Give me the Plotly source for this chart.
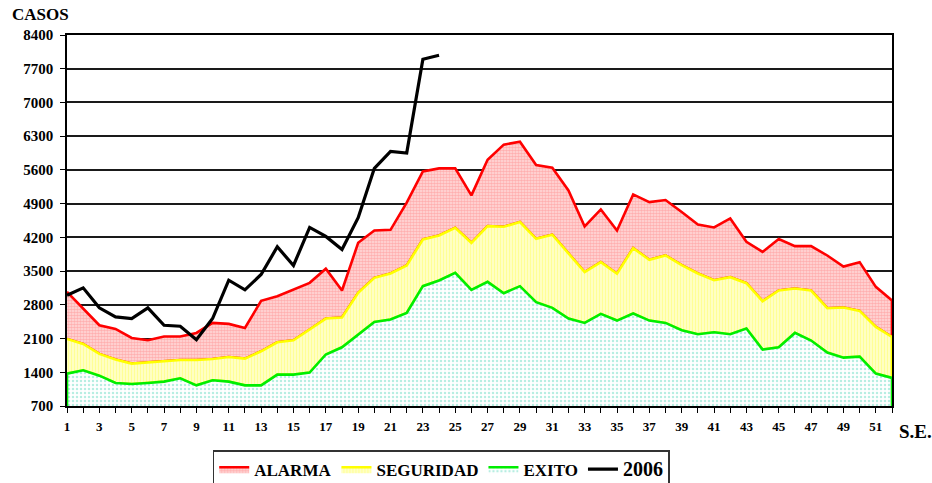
import plotly.graph_objects as go

weeks = list(range(1, 53))

alarma = [3070, 2720, 2376, 2300, 2113, 2065, 2141, 2141, 2217, 2425,
          2404, 2321, 2882, 2979, 3118, 3256, 3550, 3097, 4087, 4344,
          4357, 4919, 5570, 5632, 5632, 5071, 5812, 6124, 6186, 5701,
          5646, 5175, 4427, 4780, 4344, 5092, 4932, 4974, 4725, 4468,
          4406, 4593, 4108, 3900, 4164, 4018, 4018, 3824, 3595, 3686,
          3173, 2889]

seguridad = [2092, 1988, 1781, 1663, 1580, 1607, 1628, 1656, 1656, 1677,
             1718, 1684, 1836, 2023, 2065, 2286, 2515, 2536, 3048, 3360,
             3450, 3616, 4157, 4240, 4399, 4087, 4434, 4420, 4517, 4170,
             4254, 3866, 3478, 3686, 3446, 3976, 3734, 3824, 3623, 3450,
             3311, 3374, 3249, 2875, 3097, 3138, 3097, 2730, 2743, 2674,
             2342, 2134]

exito = [1372, 1441, 1330, 1178, 1157, 1178, 1206, 1275, 1129, 1233,
         1206, 1129, 1129, 1351, 1351, 1393, 1770, 1919, 2182, 2446,
         2494, 2633, 3187, 3305, 3464, 3111, 3277, 3041, 3187, 2854,
         2737, 2515, 2425, 2612, 2473, 2619, 2473, 2425, 2272, 2189,
         2231, 2189, 2307, 1871, 1919, 2217, 2058, 1808, 1704, 1725,
         1372, 1282]

weeks_2006 = list(range(1, 25))
casos_2006 = [3000, 3152, 2737, 2550, 2515, 2737, 2376, 2356, 2078, 2515,
              3311, 3111, 3429, 4004, 3616, 4406, 4220, 3949, 4607, 5632,
              5985, 5951, 7897, 7980]

base = 700
y_ticks = [700, 1400, 2100, 2800, 3500, 4200, 4900, 5600, 6300, 7000, 7700, 8400]
x_labels = [str(w) if w % 2 == 1 else "" for w in weeks]

SERIF = "Times New Roman"

fig = go.Figure()

# ALARMA band: between seguridad and alarma
fig.add_trace(go.Scatter(
    x=weeks + weeks[::-1], y=alarma + seguridad[::-1],
    fill="toself", mode="lines", name="<b>ALARMA</b>",
    line=dict(color="#ff0000", width=2.6),
    fillcolor="#f9b4b4",
    fillpattern=dict(shape=".", fgcolor="#ff7f7f", bgcolor="#ffdede", size=3, solidity=0.6),
    hoverinfo="skip"))

# SEGURIDAD band: between exito and seguridad
fig.add_trace(go.Scatter(
    x=weeks + weeks[::-1], y=seguridad + exito[::-1],
    fill="toself", mode="lines", name="<b>SEGURIDAD</b>",
    line=dict(color="#ffff00", width=2.6),
    fillcolor="#ffffa8",
    fillpattern=dict(shape="|", fgcolor="#ffff60", bgcolor="#ffffcc", size=3, solidity=0.45),
    hoverinfo="skip"))

# EXITO band: between base and exito
fig.add_trace(go.Scatter(
    x=[weeks[0]] + weeks + [weeks[-1]], y=[base] + exito + [base],
    fill="toself", mode="lines", name="<b>EXITO</b>",
    line=dict(color="#00ee00", width=2.6),
    fillcolor="#e4f8f3",
    fillpattern=dict(shape=".", fgcolor="#6ddcc4", bgcolor="#ffffff", size=4, solidity=0.3),
    hoverinfo="skip"))

# 2006 line
fig.add_trace(go.Scatter(
    x=weeks_2006, y=casos_2006, mode="lines",
    name="<b><span style='font-size:20px'>2006</span></b>",
    line=dict(color="#000000", width=3.2),
    hoverinfo="skip"))

fig.update_layout(
    width=932, height=483,
    margin=dict(l=67, r=40, t=35, b=77, autoexpand=False),
    paper_bgcolor="white", plot_bgcolor="white",
    font=dict(family=SERIF, color="black"),
    showlegend=True,
    legend=dict(
        orientation="h", x=0.4536, xanchor="center", y=-0.119, yanchor="top",
        bordercolor="#333333", borderwidth=1.5, bgcolor="white",
        font=dict(family=SERIF, size=17, color="black"),
        traceorder="normal", itemwidth=30, tracegroupgap=0,
    ),
    xaxis=dict(
        range=[1, 52], tickmode="array", tickvals=weeks, ticktext=x_labels,
        ticks="outside", ticklen=5, tickwidth=1.2, tickcolor="black",
        ticklabelstandoff=3,
        tickfont=dict(family=SERIF, size=13, color="black", weight="bold"),
        showgrid=False, zeroline=False, automargin=False,
        showline=True, mirror=True, linecolor="black", linewidth=1.5,
        layer="below traces",
    ),
    yaxis=dict(
        range=[700, 8400], tickmode="array", tickvals=y_ticks,
        ticktext=[str(v) for v in y_ticks],
        ticks="outside", ticklen=5, tickwidth=1.2, tickcolor="black",
        ticklabelstandoff=4,
        tickfont=dict(family=SERIF, size=15, color="black", weight="bold"),
        showgrid=True, gridcolor="#1a1a1a", gridwidth=1.5,
        zeroline=False, automargin=False,
        showline=True, mirror=True, linecolor="black", linewidth=1.5,
    ),
    annotations=[
        dict(text="<b>CASOS</b>", xref="paper", yref="paper",
             x=-0.069, y=1.055, xanchor="left", yanchor="middle",
             showarrow=False, font=dict(family=SERIF, size=17, color="black")),
        dict(text="<b>S.E.</b>", xref="paper", yref="paper",
             x=1.006, y=-0.07, xanchor="left", yanchor="middle",
             showarrow=False, font=dict(family=SERIF, size=19, color="black")),
    ],
)

fig.write_html(
    "out.html",
    config={"displayModeBar": False},
    post_script="document.body.style.margin='0';document.body.style.overflow='hidden';",
)
